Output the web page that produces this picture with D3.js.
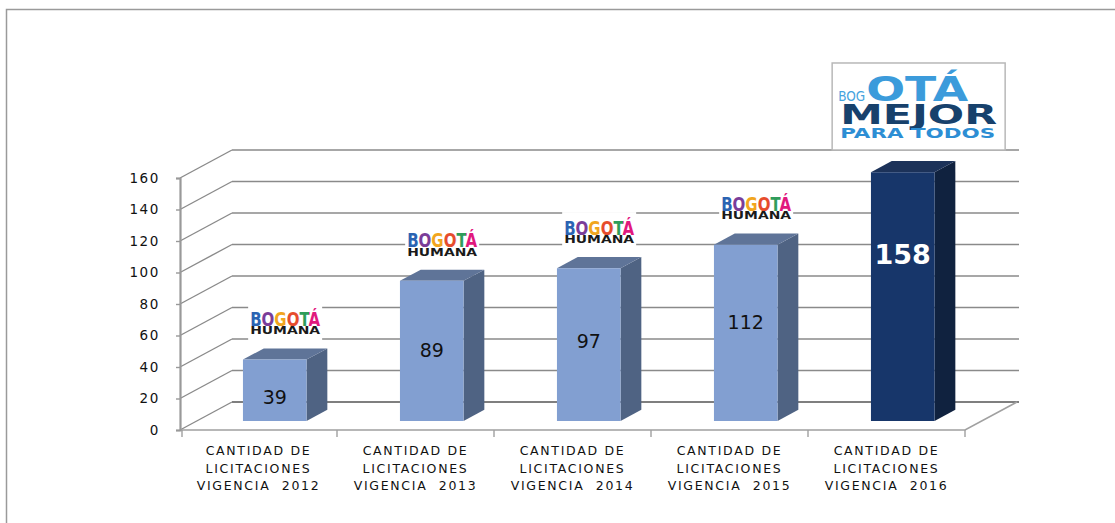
<!DOCTYPE html>
<meta charset="utf-8">
<style>
body { margin: 0; background: #fff; }
text { font-family: "DejaVu Sans", Verdana, sans-serif; }
.tick text { font-size: 13.5px; letter-spacing: 1.6px; fill: #111; }
.cat { font-size: 12.5px; letter-spacing: 1.7px; fill: #111; }
</style>
<svg width="1115" height="523"></svg>
<script src="https://d3js.org/d3.v7.min.js"></script>
<script>

var categories = [
  ["CANTIDAD DE", "LICITACIONES", "VIGENCIA  2012"],
  ["CANTIDAD DE", "LICITACIONES", "VIGENCIA  2013"],
  ["CANTIDAD DE", "LICITACIONES", "VIGENCIA  2014"],
  ["CANTIDAD DE", "LICITACIONES", "VIGENCIA  2015"],
  ["CANTIDAD DE", "LICITACIONES", "VIGENCIA  2016"]
];
var values = [39, 89, 97, 112, 158];
var yTicks = [0, 20, 40, 60, 80, 100, 120, 140, 160];
var logos = ["humana", "humana", "humana", "humana", "mejor"];
var bogotaColors = ["#2b63b2", "#7a3d99", "#f1a51f", "#e64c2d", "#2f9c5b", "#e0197d"];
// relative glyph widths of B O G O T Á (bold sans)
var bogotaWidths = [0.722, 0.778, 0.778, 0.778, 0.611, 0.722];

var svg = d3.select("svg");

// per-letter colour fill for the BOGOTÁ word
var total = d3.sum(bogotaWidths), cum = 0, stops = [];
bogotaWidths.forEach(function(w, k) {
  stops.push({o: cum / total, c: bogotaColors[k]});
  cum += w;
  stops.push({o: cum / total, c: bogotaColors[k]});
});
svg.append("defs").append("linearGradient")
    .attr("id", "bogota").attr("x1", 0).attr("x2", 1).attr("y1", 0).attr("y2", 0)
  .selectAll("stop")
  .data(stops)
  .join("stop")
    .attr("offset", function(d) { return d.o; })
    .attr("stop-color", function(d) { return d.c; });

// outer frame
svg.append("rect")
    .attr("x", 6.5).attr("y", 9.5)
    .attr("width", 1200).attr("height", 600)
    .attr("fill", "none").attr("stroke", "#9a9a9a").attr("stroke-width", 1.5);

var left = 180, right = 965, depthX = 52, depthY = -28;

var band = d3.scaleBand().domain(d3.range(values.length)).range([left, right]);
var y = d3.scaleLinear().domain([0, 160]).range([430, 178]);
var barX = function(i) { return band(i) + band.bandwidth() * 0.295; };
var barW = band.bandwidth() * 0.405;

// back wall gridlines
svg.append("g").selectAll("line")
  .data(yTicks)
  .join("line")
    .attr("x1", left + depthX).attr("x2", right + depthX + 2)
    .attr("y1", function(d) { return y(d) + depthY; })
    .attr("y2", function(d) { return y(d) + depthY; })
    .attr("stroke", function(d) { return d === 0 ? "#555" : "#8a8a8a"; })
    .attr("stroke-width", 1.6);

// left wall diagonals
svg.append("g").selectAll("line")
  .data(yTicks)
  .join("line")
    .attr("x1", left).attr("x2", left + depthX)
    .attr("y1", function(d) { return y(d); })
    .attr("y2", function(d) { return y(d) + depthY; })
    .attr("stroke", "#8a8a8a").attr("stroke-width", 1.4);

// floor edges
svg.append("path")
    .attr("d", "M" + left + "," + y(0) + "H" + right + "L" + (right + depthX) + "," + (y(0) + depthY))
    .attr("fill", "none").attr("stroke", "#a0a0a0").attr("stroke-width", 1.6);

// y axis
var yAxis = svg.append("g")
    .attr("transform", "translate(" + left + ",0)")
    .call(d3.axisLeft(y).tickValues(yTicks).tickSize(4).tickPadding(16));
yAxis.select(".domain").attr("stroke", "#999").attr("stroke-width", 2.2);
yAxis.selectAll(".tick line").attr("stroke", "#999").attr("stroke-width", 1.4);
yAxis.selectAll(".tick text").attr("font-family", "DejaVu Sans, Verdana, sans-serif");

// category ticks
svg.append("g").selectAll("line")
  .data(d3.range(values.length + 1))
  .join("line")
    .attr("x1", function(i) { return left + i * band.bandwidth() + (i === 0 ? 2 : 0); })
    .attr("x2", function(i) { return left + i * band.bandwidth() + (i === 0 ? 2 : 0); })
    .attr("y1", y(0)).attr("y2", y(0) + 7)
    .attr("stroke", "#a0a0a0").attr("stroke-width", 1.4);

// category labels
svg.append("g").selectAll("text")
  .data(categories)
  .join("text")
    .attr("class", "cat")
    .attr("text-anchor", "middle")
    .attr("transform", function(d, i) { return "translate(" + (band(i) + band.bandwidth() / 2) + ",455)"; })
  .selectAll("tspan")
  .data(function(d) { return d; })
  .join("tspan")
    .attr("x", 0)
    .attr("y", function(d, j) { return j * 17.5; })
    .style("white-space", "pre")
    .text(function(d) { return d; });

// bars
var fFront = 0.32, fBack = 0.72;
var colors = function(i) {
  return i === values.length - 1
    ? {front: "#17366a", side: "#10223f", top: "#1c3259"}
    : {front: "#829fd1", side: "#4f6383", top: "#5f7498"};
};

var bars = svg.append("g").selectAll("g")
  .data(values)
  .join("g");

function pt(px, v, f) { return [px + f * depthX, y(v) + f * depthY]; }

bars.each(function(v, i) {
  var g = d3.select(this), c = colors(i);
  var x0 = barX(i), x1 = barX(i) + barW;
  var a = pt(x0, 0, fFront), b = pt(x1, 0, fFront), t0 = pt(x0, v, fFront), t1 = pt(x1, v, fFront);
  var bb = pt(x1, 0, fBack), bt1 = pt(x1, v, fBack), bt0 = pt(x0, v, fBack);
  g.append("polygon").attr("points", [b, bb, bt1, t1].join(" ")).attr("fill", c.side);
  g.append("polygon").attr("points", [t0, t1, bt1, bt0].join(" ")).attr("fill", c.top);
  g.append("polygon").attr("points", [a, b, t1, t0].join(" ")).attr("fill", c.front);
});

// logos
bars.each(function(v, i) {
  var g = d3.select(this);
  var cx = barX(i) + barW / 2 + (fFront + fBack) / 2 * depthX;
  var top = y(v) + fBack * depthY;
  if (logos[i] === "humana") {
    g.append("rect")
        .attr("x", cx - 37).attr("y", top - 45)
        .attr("width", 74).attr("height", 38)
        .attr("fill", "#fff");
    g.append("text")
        .attr("x", cx - 35).attr("y", top - 22.5)
        .attr("textLength", 70).attr("lengthAdjust", "spacingAndGlyphs")
        .attr("font-family", "Liberation Sans Narrow, Arial Narrow, Liberation Sans, sans-serif")
        .attr("font-weight", "bold").attr("font-size", 19)
        .attr("fill", "url(#bogota)")
        .text("BOGOTÁ");
    g.append("text")
        .attr("x", cx - 35).attr("y", top - 14)
        .attr("textLength", 70).attr("lengthAdjust", "spacingAndGlyphs")
        .attr("font-family", "Liberation Sans, Arial, sans-serif")
        .attr("font-weight", "bold").attr("font-size", 10)
        .attr("fill", "#1a1a1a")
        .text("HUMANA");
  } else {
    var bx = cx - 81, by = top - 98;
    g.append("rect")
        .attr("x", bx).attr("y", by)
        .attr("width", 173).attr("height", 87)
        .attr("fill", "#fff").attr("stroke", "#b8b8b8").attr("stroke-width", 1.5);
    g.append("text")
        .attr("x", bx + 6).attr("y", by + 38)
        .attr("font-family", "DejaVu Sans, sans-serif")
        .attr("font-size", 13.5).attr("fill", "#45a3de")
        .attr("textLength", 27).attr("lengthAdjust", "spacingAndGlyphs")
        .text("BOG");
    g.append("text")
        .attr("x", bx + 34).attr("y", by + 38.5)
        .attr("font-family", "DejaVu Sans, sans-serif").attr("font-weight", "bold")
        .attr("font-size", 33).attr("fill", "#3b9bdb")
        .attr("textLength", 102).attr("lengthAdjust", "spacingAndGlyphs")
        .text("OTÁ");
    g.append("text")
        .attr("x", bx + 8).attr("y", by + 61)
        .attr("font-family", "DejaVu Sans, sans-serif").attr("font-weight", "bold")
        .attr("font-size", 26).attr("fill", "#17416c")
        .attr("textLength", 157).attr("lengthAdjust", "spacingAndGlyphs")
        .text("MEJOR");
    g.append("text")
        .attr("x", bx + 8).attr("y", by + 75)
        .attr("font-family", "DejaVu Sans, sans-serif").attr("font-weight", "bold")
        .attr("font-size", 14).attr("fill", "#2d8ed4")
        .attr("textLength", 155).attr("lengthAdjust", "spacingAndGlyphs")
        .text("PARA TODOS");
  }
});

// value labels
bars.append("text")
    .attr("text-anchor", "middle")
    .attr("dominant-baseline", "central")
    .attr("x", function(v, i) { return barX(i) + barW / 2 + fFront * depthX; })
    .attr("y", function(v) { return y(v * (0.3 + v / 430)) + fFront * depthY; })
    .attr("font-size", function(v, i) { return i === values.length - 1 ? 27 : 19; })
    .attr("font-weight", function(v, i) { return i === values.length - 1 ? "bold" : "normal"; })
    .attr("fill", function(v, i) { return i === values.length - 1 ? "#fff" : "#111"; })
    .text(function(v) { return v; });

</script>
